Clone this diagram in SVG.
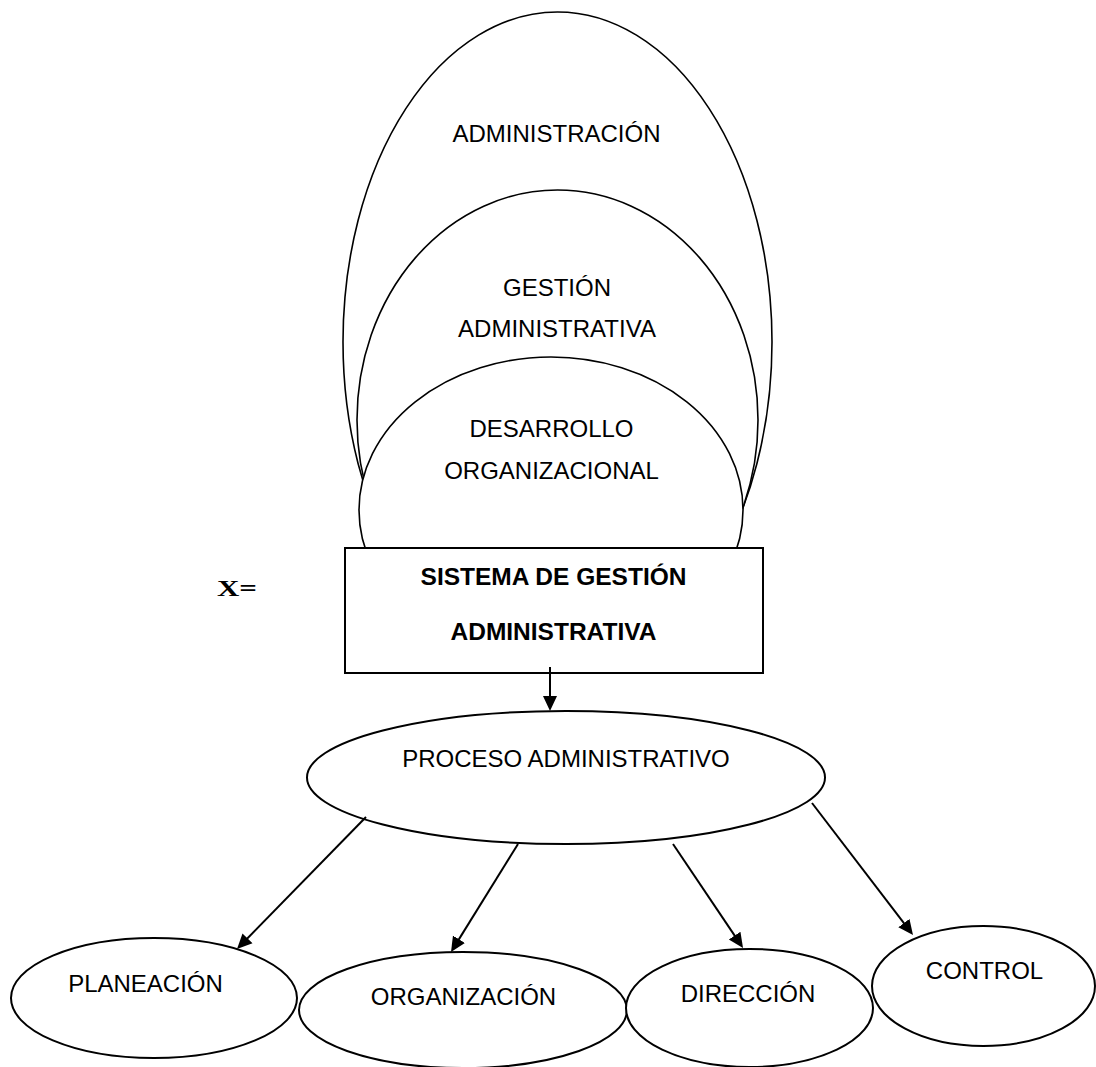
<svg xmlns="http://www.w3.org/2000/svg" width="1096" height="1067" viewBox="0 0 1096 1067">
  <style>
    .shape { fill: #ffffff; stroke: #000000; stroke-width: 1.6; }
    .node { fill: #ffffff; stroke: #000000; stroke-width: 2; }
    .box { fill: #ffffff; stroke: #000000; stroke-width: 2; }
    .label { font-family: "Liberation Sans", Arial, sans-serif; font-size: 24px; fill: #000000; text-anchor: middle; }
    .bold { font-family: "Liberation Sans", Arial, sans-serif; font-size: 24.5px; font-weight: bold; fill: #000000; text-anchor: middle; }
    .eq { font-family: "Liberation Serif", "Times New Roman", serif; font-size: 24px; font-weight: bold; fill: #000000; }
    .link { fill: none; stroke: #000000; stroke-width: 2; marker-end: url(#head); }
  </style>
  <defs>
    <marker id="head" markerUnits="userSpaceOnUse" markerWidth="16" markerHeight="16" refX="1" refY="7" orient="auto" viewBox="0 0 16 14">
      <path d="M0,0 L15,7 L0,14 z" fill="#000000"/>
    </marker>
  </defs>

  <rect width="1096" height="1067" fill="#ffffff"/>

  <!-- nested circles: administración > gestión administrativa > desarrollo organizacional -->
  <g id="administracion">
    <ellipse class="shape" cx="557.5" cy="342" rx="214.5" ry="330"/>
    <text class="label" x="556.5" y="142">ADMINISTRACIÓN</text>
  </g>
  <g id="gestion-administrativa">
    <ellipse class="shape" cx="557.5" cy="420" rx="200.5" ry="230"/>
    <text class="label" x="557" y="296">GESTIÓN</text>
    <text class="label" x="557" y="337">ADMINISTRATIVA</text>
  </g>
  <g id="desarrollo-organizacional">
    <ellipse class="shape" cx="551" cy="510" rx="192" ry="153"/>
    <text class="label" x="551.5" y="437">DESARROLLO</text>
    <text class="label" x="551.5" y="479">ORGANIZACIONAL</text>
  </g>

  <g id="sistema">
    <rect class="box" x="345" y="548" width="418" height="125"/>
    <text class="bold" x="553.5" y="585">SISTEMA DE GESTIÓN</text>
    <text class="bold" x="553.5" y="640">ADMINISTRATIVA</text>
  </g>

  <g id="equals">
    <text class="eq" x="217" y="596" textLength="40" lengthAdjust="spacingAndGlyphs">X=</text>
  </g>

  <g id="proceso">
    <ellipse class="node" cx="566" cy="777.5" rx="259" ry="66.5"/>
    <text class="label" x="566" y="767">PROCESO ADMINISTRATIVO</text>
  </g>

  <g id="planeacion">
    <ellipse class="node" cx="154" cy="998" rx="143" ry="60"/>
    <text class="label" x="145.5" y="992">PLANEACIÓN</text>
  </g>
  <g id="organizacion">
    <ellipse class="node" cx="463" cy="1010" rx="164" ry="58"/>
    <text class="label" x="463.5" y="1005">ORGANIZACIÓN</text>
  </g>
  <g id="direccion">
    <ellipse class="node" cx="749.5" cy="1008" rx="123.5" ry="59"/>
    <text class="label" x="748" y="1002">DIRECCIÓN</text>
  </g>
  <g id="control">
    <ellipse class="node" cx="983.5" cy="986" rx="111.5" ry="60"/>
    <text class="label" x="984.5" y="979">CONTROL</text>
  </g>

  <g id="connectors">
    <line class="link" x1="550" y1="667" x2="550" y2="697"/>
    <line class="link" x1="366" y1="817" x2="246.8" y2="939"/>
    <line class="link" x1="518" y1="844" x2="458.4" y2="940.1"/>
    <line class="link" x1="673" y1="844" x2="735.2" y2="936.4"/>
    <line class="link" x1="812" y1="803" x2="904.5" y2="923.9"/>
  </g>
</svg>
